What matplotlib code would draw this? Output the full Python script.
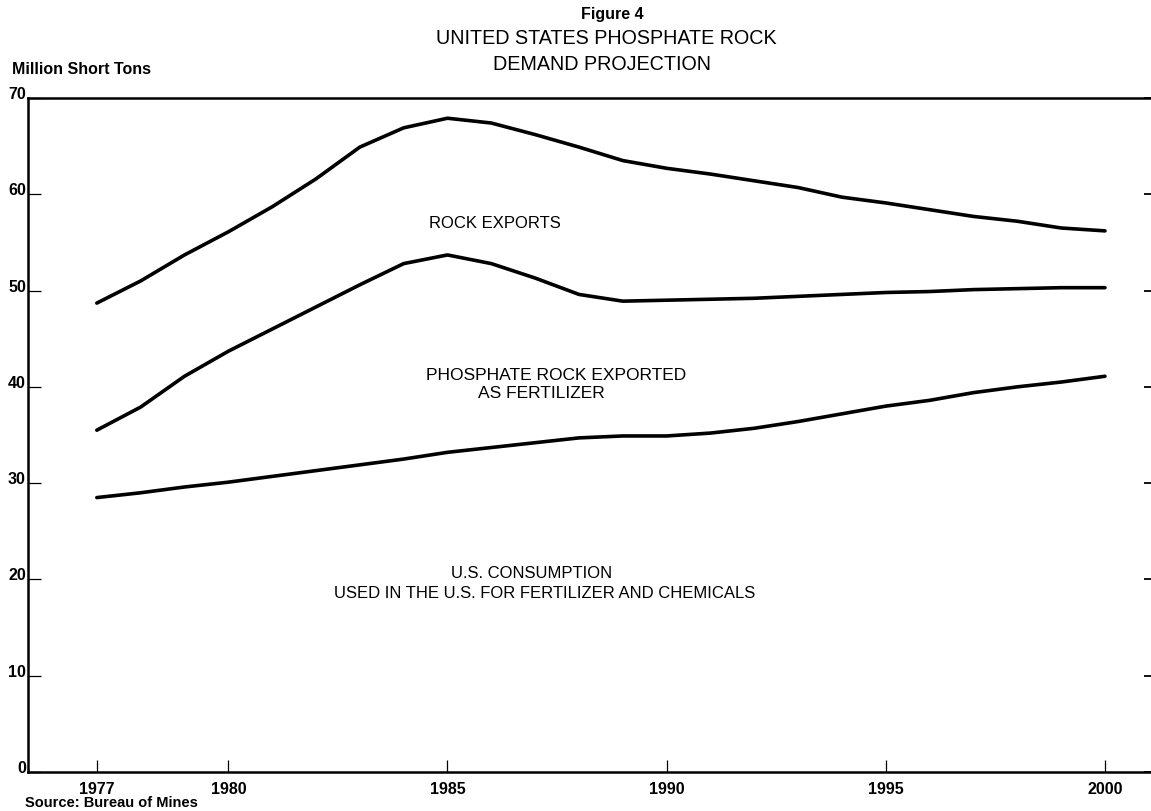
import matplotlib
matplotlib.use("Agg")
import matplotlib.pyplot as plt

# ---------------- data (million short tons) ----------------
years = list(range(1977, 2001))
# top curve: total demand (consumption + fertilizer exports + rock exports)
total_demand = [48.7, 51.0, 53.7, 56.1, 58.7, 61.6, 64.9, 66.9, 67.9, 67.4,
                66.2, 64.9, 63.5, 62.7, 62.1, 61.4, 60.7, 59.7, 59.1, 58.4,
                57.7, 57.2, 56.5, 56.2]
# middle curve: consumption + phosphate rock exported as fertilizer
consumption_plus_fert = [35.5, 37.9, 41.1, 43.7, 46.0, 48.3, 50.6, 52.8, 53.7, 52.8,
                         51.3, 49.6, 48.9, 49.0, 49.1, 49.2, 49.4, 49.6, 49.8, 49.9,
                         50.1, 50.2, 50.3, 50.3]
# bottom curve: U.S. consumption
us_consumption = [28.5, 29.0, 29.6, 30.1, 30.7, 31.3, 31.9, 32.5, 33.2, 33.7,
                  34.2, 34.7, 34.9, 34.9, 35.2, 35.7, 36.4, 37.2, 38.0, 38.6,
                  39.4, 40.0, 40.5, 41.1]
tick_years = [1977, 1980, 1985, 1990, 1995, 2000]
y_ticks = [0, 10, 20, 30, 40, 50, 60, 70]

title_lines = ["Figure 4", "UNITED STATES PHOSPHATE ROCK", "DEMAND PROJECTION"]
y_unit = "Million Short Tons"
source = "Source: Bureau of Mines"
band_labels = ["ROCK EXPORTS", "PHOSPHATE ROCK EXPORTED", "AS FERTILIZER",
               "U.S. CONSUMPTION", "USED IN THE U.S. FOR FERTILIZER AND CHEMICALS"]

# ---------------- figure ----------------
plt.rcParams['font.family'] = ['Liberation Sans', 'DejaVu Sans']
W, H = 1151, 812
fig = plt.figure(figsize=(W / 100, H / 100), dpi=100)
fig.patch.set_facecolor('white')


def fx(px):
    return px / W


def fy(py):
    return 1 - py / H


ax = fig.add_axes([fx(28), fy(773), 1 - fx(28), fy(99) - fy(773)])

for series in (total_demand, consumption_plus_fert, us_consumption):
    ax.plot(years, series, color='black', lw=2.6, solid_capstyle='round',
            solid_joinstyle='round')

ax.set_xlim(1975.43, 2001.05)
ax.set_ylim(0, 70)
ax.set_xticks(tick_years)
ax.set_xticklabels([str(y) for y in tick_years])
ax.set_yticks(y_ticks)
ax.set_yticklabels([str(v) for v in y_ticks])

for side in ('left', 'bottom', 'top'):
    ax.spines[side].set_linewidth(1.8)
    ax.spines[side].set_color('black')
ax.spines['right'].set_visible(False)

ax.tick_params(axis='x', direction='in', length=8.5, width=0.9, pad=6.5,
               labelsize=11.5, colors='black')
ax.tick_params(axis='y', direction='in', length=9.5, width=0.9, pad=1.5,
               labelsize=11.5, colors='black', right=True)
for t in ax.yaxis.get_major_ticks():
    t.tick2line.set_markersize(5)
    t.tick2line.set_markeredgewidth(1.3)
for lab in ax.get_xticklabels():
    lab.set_fontweight('bold')
for lab in ax.get_yticklabels():
    lab.set_fontweight('bold')
    lab.set_va('baseline')

# titles
fig.text(fx(612), fy(14), title_lines[0], ha='center', va='center',
         fontsize=11.5, fontweight='bold')
fig.text(fx(606), fy(39), title_lines[1], ha='center', va='center',
         fontsize=14.2)
fig.text(fx(602), fy(64), title_lines[2], ha='center', va='center',
         fontsize=14.2)

fig.text(fx(12), fy(69), y_unit, ha='left', va='center', fontsize=11.5,
         fontweight='bold')
fig.text(fx(25), fy(803), source, ha='left', va='center', fontsize=10.5,
         fontweight='bold')

# in-chart band labels
fig.text(fx(495), fy(223), band_labels[0], ha='center', va='center', fontsize=12)
fig.text(fx(556), fy(376), band_labels[1], ha='center', va='center', fontsize=12.5)
fig.text(fx(541), fy(394), band_labels[2], ha='center', va='center', fontsize=12.5)
fig.text(fx(532), fy(574), band_labels[3], ha='center', va='center', fontsize=12)
fig.text(fx(545), fy(594), band_labels[4], ha='center', va='center', fontsize=12)

fig.savefig("out.png", dpi=100, facecolor='white')
